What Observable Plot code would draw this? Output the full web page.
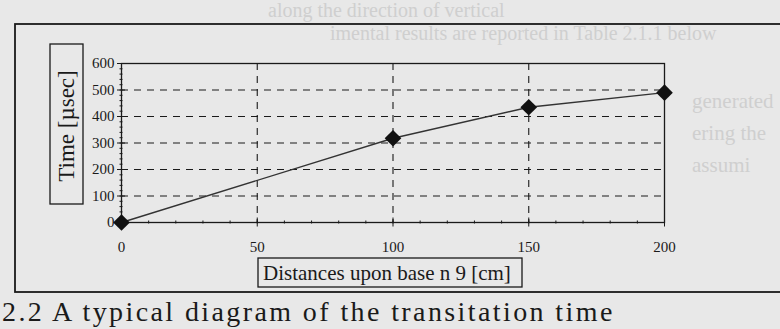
<!DOCTYPE html>
<html>
<head>
<meta charset="utf-8">
<script src="https://cdn.jsdelivr.net/npm/d3@7"></script>
<script src="https://cdn.jsdelivr.net/npm/@observablehq/plot@0.6"></script>
<style>
  html, body { margin: 0; padding: 0; background: #e8e8e8; overflow: hidden; }
  #chart { position: relative; width: 780px; height: 329px; }
</style>
</head>
<body>
<div id="chart"></div>
<script>
// Data
const distances = [0, 100, 150, 200];          // cm
const times = [0, 318, 435, 490];             // µsec
const xMajorTicks = [0, 50, 100, 150, 200];
const xMinorTicks = d3.range(0, 201, 10);
const yMajorTicks = [0, 100, 200, 300, 400, 500, 600];
const yMinorTicks = d3.range(0, 601, 20);
const yGrid = [100, 200, 300, 400, 500];
const xGrid = [50, 100, 150];
const yLabel = "Time [µsec]";
const xLabel = "Distances upon base n 9 [cm]";
const caption = "2.2 A typical diagram of the transitation time";

const data = distances.map((d, i) => ({distance: d, time: times[i]}));
const ink = "#1a1a1a";
const serif = "'Liberation Serif', 'DejaVu Serif', serif";

const chart = Plot.plot({
  width: 780,
  height: 329,
  marginLeft: 121,
  marginRight: 116,
  marginTop: 63,
  marginBottom: 107,
  style: {background: "transparent", fontFamily: serif, fontSize: "15px", color: ink},
  x: {domain: [0, 200]},
  y: {domain: [0, 600]},
  marks: [
    Plot.ruleY(yGrid, {stroke: ink, strokeWidth: 1.1, strokeDasharray: "7,6"}),
    Plot.ruleX(xGrid, {stroke: ink, strokeWidth: 1.1, strokeDasharray: "7,6"}),
    Plot.frame({stroke: ink, strokeWidth: 1.3}),
    // y axis: crossing major ticks, minor ticks, labels
    Plot.axisY({ticks: yMinorTicks, tickSize: 3, dx: 1.5, text: null, label: null, stroke: ink}),
    Plot.axisY({ticks: yMajorTicks, tickSize: 8, dx: 4, text: null, label: null, stroke: ink}),
    Plot.axisY({ticks: yMajorTicks, tickSize: 0, tickPadding: 7, label: null, fill: ink, fontSize: 15}),
    // x axis
    Plot.axisX({ticks: xMinorTicks, tickSize: 3, dy: -1.5, text: null, label: null, stroke: ink}),
    Plot.axisX({ticks: xMajorTicks, tickSize: 9, dy: -4.5, text: null, label: null, stroke: ink}),
    Plot.axisX({ticks: xMajorTicks, tickSize: 0, tickPadding: 19, label: null, fill: ink, fontSize: 15}),
    // series
    Plot.line(data, {x: "distance", y: "time", stroke: "#333", strokeWidth: 1.4}),
    Plot.dot(data, {x: "distance", y: "time", symbol: "diamond2", r: 7.5, fill: "#111", stroke: "none"})
  ]
});

const svg = d3.select(chart);
// faint bleed-through / page text
const ghost = svg.insert("g", ":first-child").attr("font-family", serif)
  .attr("fill", "#cfcfcf").attr("text-anchor", "start");
ghost.append("text").attr("x", 268).attr("y", 17).attr("font-size", 20).text("along the direction of vertical");
ghost.append("text").attr("x", 330).attr("y", 40).attr("font-size", 20).text("imental results are reported in Table 2.1.1 below");
ghost.append("text").attr("x", 692).attr("y", 108).attr("font-size", 21).text("generated");
ghost.append("text").attr("x", 692).attr("y", 140).attr("font-size", 21).text("ering the");
ghost.append("text").attr("x", 692).attr("y", 172).attr("font-size", 21).text("assumi");

// outer frame around the figure
svg.append("rect").attr("x", 15).attr("y", 24).attr("width", 800).attr("height", 268)
  .attr("fill", "none").attr("stroke", ink).attr("stroke-width", 1.8);

// y label box
const yb = svg.append("g");
yb.append("rect").attr("x", 50).attr("y", 44).attr("width", 33).attr("height", 160)
  .attr("fill", "none").attr("stroke", ink).attr("stroke-width", 1.3);
yb.append("text").attr("transform", "translate(74,126) rotate(-90)")
  .attr("text-anchor", "middle").attr("font-family", serif).attr("font-size", 23)
  .attr("fill", ink).text(yLabel);

// x label box
const xb = svg.append("g");
xb.append("rect").attr("x", 258).attr("y", 258).attr("width", 264).attr("height", 29)
  .attr("fill", "none").attr("stroke", ink).attr("stroke-width", 1.3);
xb.append("text").attr("x", 263).attr("y", 280).attr("text-anchor", "start")
  .attr("font-family", serif).attr("font-size", 21).attr("fill", ink).text(xLabel);

// caption
svg.append("text").attr("x", 2).attr("y", 321).attr("text-anchor", "start")
  .attr("font-family", serif).attr("font-size", 28).attr("letter-spacing", 2.4)
  .attr("fill", ink).text(caption);

document.getElementById("chart").appendChild(chart);
</script>
</body>
</html>
